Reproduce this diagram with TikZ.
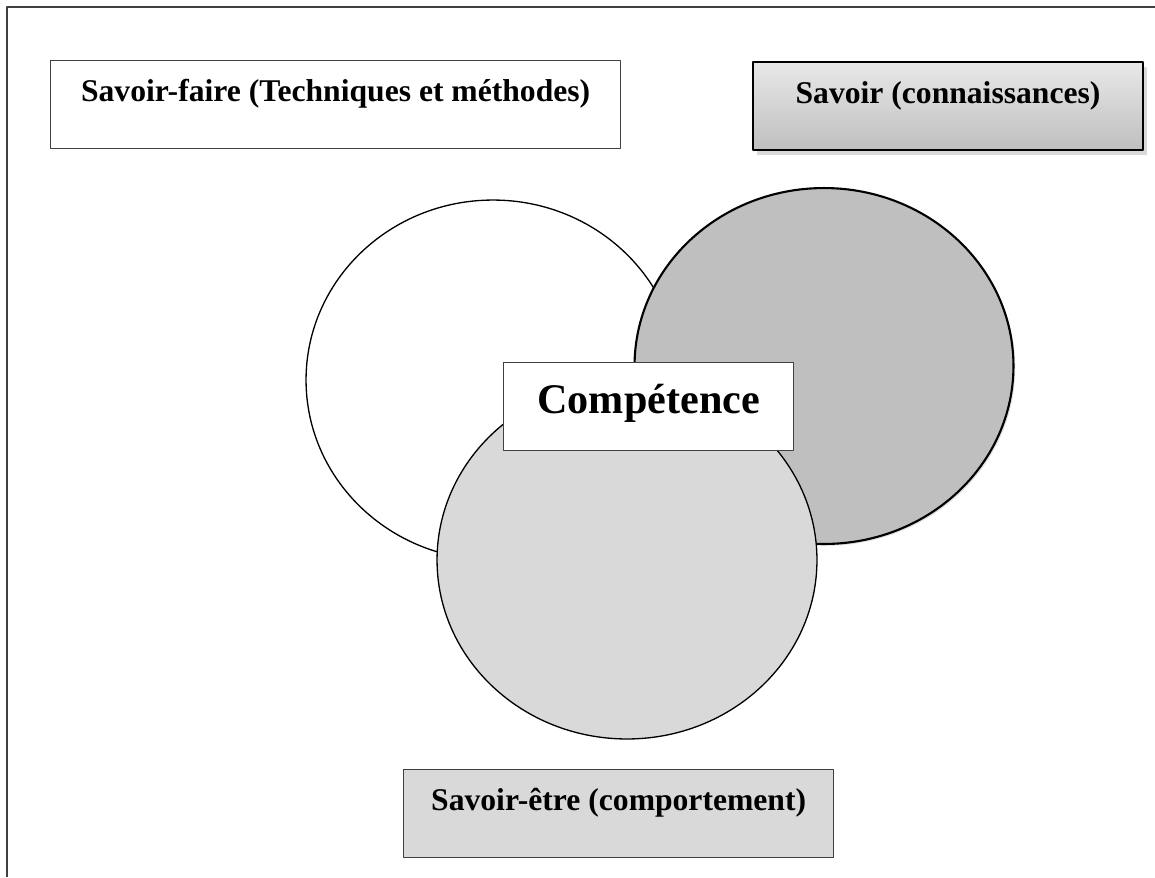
\documentclass[tikz,border=0pt]{standalone}
\usepackage{fontspec}
\setmainfont{Liberation Serif}
\usetikzlibrary{shadows,shapes.geometric}

\definecolor{grisclair}{HTML}{D9D9D9}
\definecolor{grisfonce}{HTML}{BFBFBF}
\definecolor{trait}{HTML}{404040}

\tikzset{
  boite/.style={draw=trait, line width=0.8pt, inner sep=0pt, anchor=north west,
    font=\fontsize{18}{22}\selectfont\bfseries, align=center,
    minimum height=1.76cm, text height=0.82cm, text depth=0.94cm},
  rond/.style={ellipse, draw=black, inner sep=0pt}
}

\begin{document}
\begin{tikzpicture}[x=0.02cm, y=-0.02cm, line join=round]
  \useasboundingbox (0,0) rectangle (1155,877);
  % le cadre, seulement en haut et à gauche
  \draw[trait, line width=1.1pt] (7,877) -- (7,7) -- (1155,7);
  % les trois cercles, le plus clair par-dessus
  \node[rond, fill=white, line width=0.75pt, minimum width=7.48cm, minimum height=7.2cm] (faire) at (493,380) {};
  \node[rond, fill=grisfonce, line width=1.2pt, minimum width=7.58cm, minimum height=7.12cm,
    drop shadow={shadow xshift=1pt, shadow yshift=-1pt, opacity=.25}] (savoirC) at (824,366) {};
  \node[rond, fill=grisclair, line width=0.75pt, minimum width=7.6cm, minimum height=7.16cm] (etre) at (627,560) {};
  % les étiquettes
  \node[boite, fill=white, minimum width=11.4cm] (sfaire) at (50,60) {Savoir-faire (Techniques et méthodes)};
  \node[boite, draw=black, line width=1.2pt, minimum width=7.8cm,
    top color=grisclair!60, bottom color=grisfonce,
    drop shadow={shadow xshift=2pt, shadow yshift=-3pt, opacity=.3}] (savoir) at (752,61) {Savoir (connaissances)};
  \node[boite, fill=grisclair, minimum width=8.6cm] (setre) at (403,769) {Savoir-être (comportement)};
  % au centre
  \node[boite, fill=white, minimum width=5.8cm, text height=1.02cm, text depth=0.74cm,
    font=\fontsize{24}{28}\selectfont\bfseries] (comp) at (503,362) {Compétence};
\end{tikzpicture}
\end{document}
